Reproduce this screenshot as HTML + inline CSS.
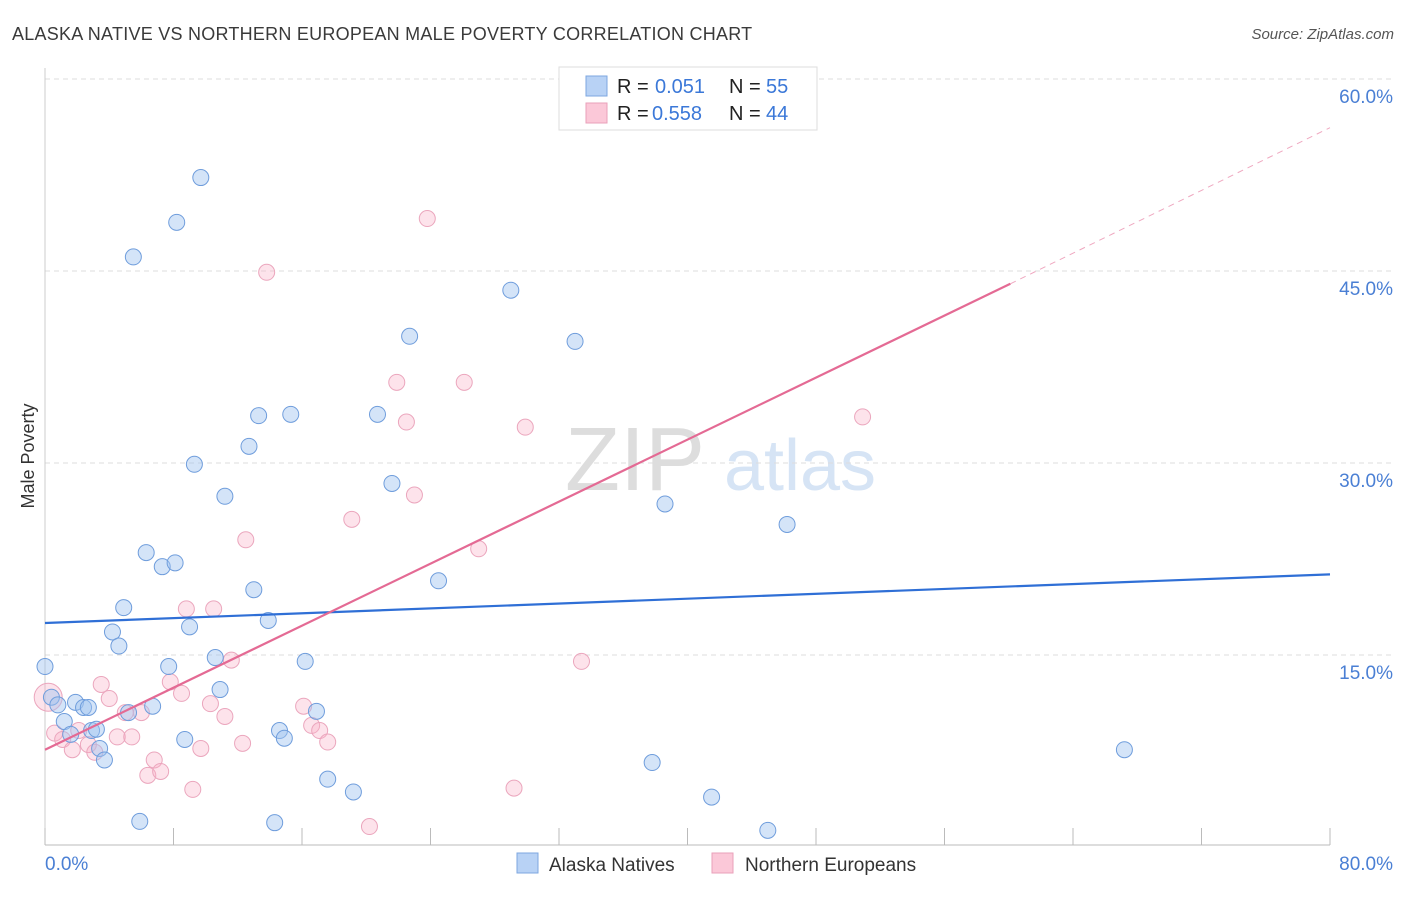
<!DOCTYPE html>
<html><head><meta charset="utf-8"><style>
body{margin:0;background:#fff;font-family:"Liberation Sans",sans-serif}
svg text{font-family:"Liberation Sans",sans-serif}
</style></head><body>
<svg id="chart" width="1406" height="892">
<text x="12" y="40" font-size="18" fill="#3a3a3a" letter-spacing="0.25">ALASKA NATIVE VS NORTHERN EUROPEAN MALE POVERTY CORRELATION CHART</text>
<text x="1394" y="39" font-size="15" fill="#555" font-style="italic" text-anchor="end">Source: ZipAtlas.com</text>
<text x="34" y="456" font-size="18" fill="#333" text-anchor="middle" transform="rotate(-90 34 456)">Male Poverty</text>
<g>
<text x="635" y="490" font-size="90" fill="#ddd" font-family="Liberation Serif" text-anchor="middle">ZIP</text>
<text x="800" y="490" font-size="72" fill="#d6e4f5" text-anchor="middle">atlas</text>
</g>
<g id="grid"></g><g id="axes"></g><g id="marks"></g>
<g>
<rect x="559" y="67" width="258" height="63" fill="#fff" stroke="#ddd"/>
<rect x="586" y="76" width="21" height="20" fill="#b8d2f5" stroke="#7ea7e0"/>
<rect x="586" y="103" width="21" height="20" fill="#fbc8d8" stroke="#eaa0ba"/>
<text x="617" y="93" font-size="20" fill="#222">R =</text>
<text x="655" y="93" font-size="20" fill="#3b78d8">0.051</text>
<text x="729" y="93" font-size="20" fill="#222">N =</text>
<text x="766" y="93" font-size="20" fill="#3b78d8">55</text>
<text x="617" y="120" font-size="20" fill="#222">R =</text>
<text x="652" y="120" font-size="20" fill="#3b78d8">0.558</text>
<text x="729" y="120" font-size="20" fill="#222">N =</text>
<text x="766" y="120" font-size="20" fill="#3b78d8">44</text>
</g>
<g>
<rect x="517" y="853" width="21" height="20" fill="#b8d2f5" stroke="#7ea7e0"/>
<text x="549" y="871" font-size="19" fill="#333">Alaska Natives</text>
<rect x="712" y="853" width="21" height="20" fill="#fbc8d8" stroke="#eaa0ba"/>
<text x="745" y="871" font-size="19" fill="#333">Northern Europeans</text>
</g>
</svg>
<script>
const yTicks=[15,30,45,60];
const yTickLabels=["15.0%","30.0%","45.0%","60.0%"];
const xTickLabels=["0.0%","80.0%"];
const blueX=[0.0,0.4,0.8,1.2,1.9,2.4,2.7,1.6,2.9,3.2,3.4,3.7,4.2,4.6,4.9,5.2,5.5,5.9,6.3,6.7,7.3,7.7,8.1,8.2,8.7,9.0,9.3,9.7,10.6,10.9,11.2,12.7,13.0,13.3,13.9,14.3,14.6,14.9,15.3,16.2,16.9,17.6,19.2,20.7,21.6,22.7,24.5,29.0,33.0,37.8,38.6,41.5,45.0,46.2,67.2];
const blueY=[14.1,11.7,11.1,9.8,11.3,10.9,10.9,8.8,9.1,9.2,7.7,6.8,16.8,15.7,18.7,10.5,46.1,2.0,23.0,11.0,21.9,14.1,22.2,48.8,8.4,17.2,29.9,52.3,14.8,12.3,27.4,31.3,20.1,33.7,17.7,1.9,9.1,8.5,33.8,14.5,10.6,5.3,4.3,33.8,28.4,39.9,20.8,43.5,39.5,6.6,26.8,3.9,1.3,25.2,7.6];
const pinkX=[0.2,0.6,1.1,1.7,2.1,2.7,3.1,3.5,4.0,4.5,5.0,5.4,6.0,6.4,6.8,7.2,7.8,8.5,8.8,9.2,9.7,10.3,10.5,11.2,11.6,12.3,12.5,13.8,16.1,16.6,17.1,17.6,19.1,20.2,21.9,22.5,23.0,23.8,26.1,27.0,29.2,29.9,33.4,50.9];
const pinkY=[11.7,8.9,8.4,7.6,9.1,8.0,7.4,12.7,11.6,8.6,10.5,8.6,10.5,5.6,6.8,5.9,12.9,12.0,18.6,4.5,7.7,11.2,18.6,10.2,14.6,8.1,24.0,44.9,11.0,9.5,9.1,8.2,25.6,1.6,36.3,33.2,27.5,49.1,36.3,23.3,4.6,32.8,14.5,33.6];
const blueTrend=[17.5,21.3];
const pinkTrend=[7.6,44.0,56.2];
const pinkTrendX=[0,60.1,80];
const NS='http://www.w3.org/2000/svg';
const sx=v=>45+v*(1285/80);
const sy=v=>847-v*12.8;
function mk(t,a,p){const e=document.createElementNS(NS,t);for(const k in a)e.setAttribute(k,a[k]);document.getElementById(p).appendChild(e);return e;}
yTicks.forEach((t,i)=>{
 const g=mk('line',{x1:45,x2:1395,y1:sy(t),y2:sy(t),stroke:'#ddd','stroke-dasharray':'5,4'},'grid');
 
 
 const l=mk('text',{x:1393,y:sy(t)+24,'font-size':19,fill:'#4a7fd4','text-anchor':'end'},'axes');
 l.textContent=yTickLabels[i];
 
 
});
mk('line',{x1:45,x2:45,y1:68,y2:845,stroke:'#ccc'},'axes');
mk('line',{x1:45,x2:1330,y1:845,y2:845,stroke:'#bbb'},'axes');
for(let i=0;i<=10;i++){mk('line',{x1:sx(i*8),x2:sx(i*8),y1:828,y2:845,stroke:'#bbb'},'axes');}
const xl0=mk('text',{x:45,y:870,'font-size':19,fill:'#4a7fd4'},'axes');xl0.textContent=xTickLabels[0];


const xl1=mk('text',{x:1393,y:870,'font-size':19,fill:'#4a7fd4','text-anchor':'end'},'axes');xl1.textContent=xTickLabels[1];


pinkX.forEach((x,i)=>{
 const c=mk('circle',{cx:sx(x),cy:sy(pinkY[i]),r:i===0?14:8,fill:'rgba(248,176,198,0.35)',stroke:'#eba6bd','stroke-width':1},'marks');
 
 
});
blueX.forEach((x,i)=>{
 const c=mk('circle',{cx:sx(x),cy:sy(blueY[i]),r:8,fill:'rgba(160,196,240,0.45)',stroke:'#6f9ddc','stroke-width':1},'marks');
 
 
});
const bl=mk('line',{x1:sx(0),y1:sy(blueTrend[0]),x2:sx(80),y2:sy(blueTrend[1]),stroke:'#2f6fd6','stroke-width':2.2},'marks');


const pl=mk('line',{x1:sx(pinkTrendX[0]),y1:sy(pinkTrend[0]),x2:sx(pinkTrendX[1]),y2:sy(pinkTrend[1]),stroke:'#e46a94','stroke-width':2.2},'marks');


const pd=mk('line',{x1:sx(pinkTrendX[1]),y1:sy(pinkTrend[1]),x2:sx(pinkTrendX[2]),y2:sy(pinkTrend[2]),stroke:'#efa8c0','stroke-width':1,'stroke-dasharray':'6,5'},'marks');


</script>
</body></html>
